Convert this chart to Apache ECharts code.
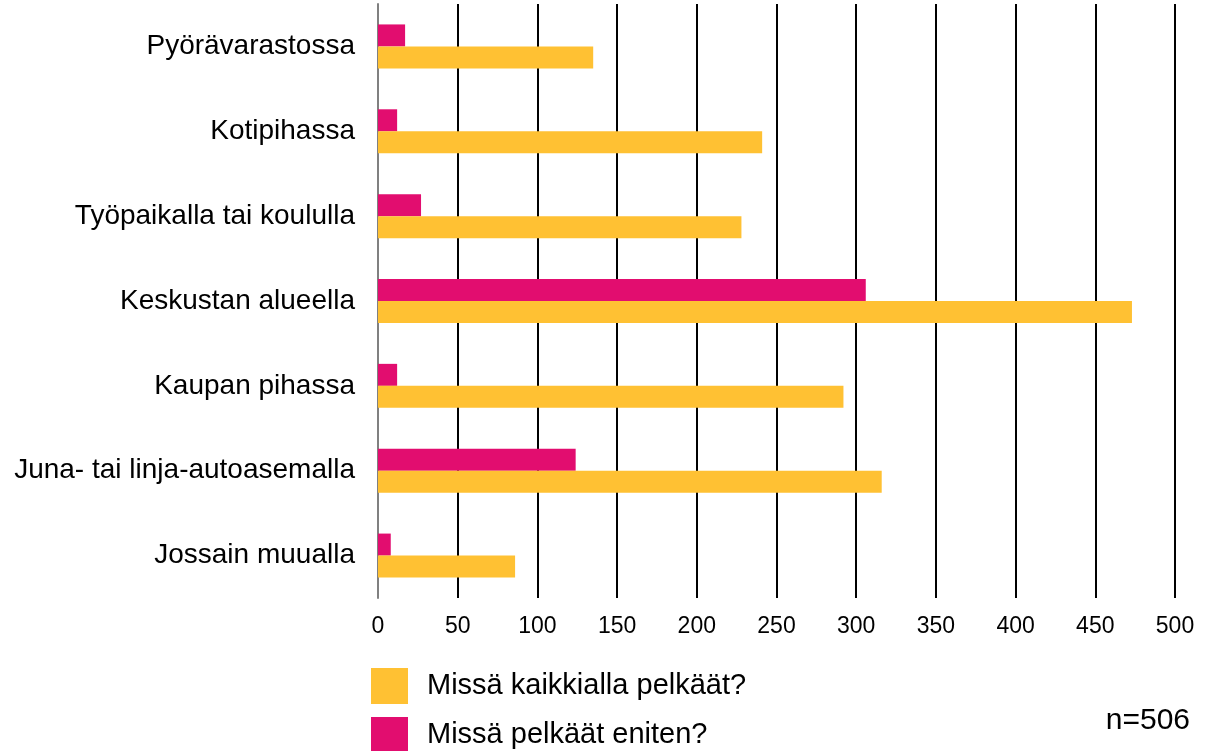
<!DOCTYPE html>
<html>
<head>
<meta charset="utf-8">
<script src="https://cdn.jsdelivr.net/npm/echarts@6/dist/echarts.min.js"></script>
<style>
  html, body { margin: 0; padding: 0; background: #fff; }
  #chart { width: 1210px; height: 751px; }
</style>
</head>
<body>
<div id="chart"></div>
<script>
// paikat ylhäältä alas
var categories = ['Pyörävarastossa', 'Kotipihassa', 'Työpaikalla tai koululla', 'Keskustan alueella', 'Kaupan pihassa', 'Juna- tai linja-autoasemalla', 'Jossain muualla']
var eniten = [17, 12, 27, 306, 12, 124, 8]
var kaikkialla = [135, 241, 228, 473, 292, 316, 86]
var xTicks = { min: 0, max: 500, interval: 50 }
var nameKaikkialla = 'Missä kaikkialla pelkäät?'
var nameEniten = 'Missä pelkäät eniten?'

var myChart = echarts.init(document.getElementById('chart'))
var option = {
    animation: false,
    textStyle: { fontFamily: 'Liberation Sans, Arial, sans-serif' },
    grid: { left: 378, right: 35, top: 4, bottom: 153 },
    xAxis: {
        type: 'value',
        min: xTicks.min,
        max: xTicks.max,
        interval: xTicks.interval,
        axisLine: { show: false },
        axisTick: { show: false },
        axisLabel: { fontSize: 23, color: '#000', margin: 17 },
        splitLine: { show: true, lineStyle: { color: '#000', width: 2 } },
    },
    yAxis: {
        type: 'category',
        data: categories,
        inverse: true,
        axisLine: { show: true, lineStyle: { color: '#808080', width: 2 } },
        axisTick: { show: false },
        axisLabel: { fontSize: 28, color: '#000', margin: 23 },
    },
    legend: {
        orient: 'vertical',
        left: 371,
        top: 668,
        height: 200,
        padding: 0,
        itemWidth: 37,
        itemHeight: 36,
        itemGap: 13,
        icon: 'rect',
        data: [nameKaikkialla, nameEniten],
        textStyle: { fontSize: 29, color: '#000', padding: [0, 0, 0, 14] },
    },
    graphic: [
        {
            type: 'text',
            right: 20,
            top: 706,
            style: { text: 'n=506', fontSize: 30, fill: '#000', fontFamily: 'Liberation Sans, Arial, sans-serif' },
        },
    ],
    series: [
        {
            name: nameEniten,
            type: 'bar',
            data: eniten,
            barWidth: 22,
            barGap: '0%',
            itemStyle: { color: '#e20d6f' },
        },
        {
            name: nameKaikkialla,
            type: 'bar',
            data: kaikkialla,
            barWidth: 22,
            barGap: '0%',
            itemStyle: { color: '#ffc133' },
        },
    ],
}
myChart.setOption(option)
</script>
</body>
</html>
